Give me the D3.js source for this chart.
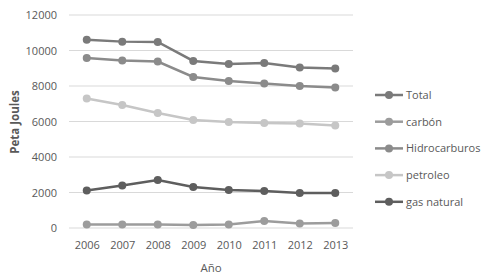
<!DOCTYPE html>
<html><head><meta charset="utf-8">
<script src="https://cdn.jsdelivr.net/npm/d3@7"></script>
<style>body{margin:0;background:#fff;} text{font-family:"Open Sans","Noto Sans",sans-serif;}</style>
</head><body><svg id="c" width="489" height="278"></svg>
<script>
const years = ["2006","2007","2008","2009","2010","2011","2012","2013"];
const seriesNames = ["Total","carbón","Hidrocarburos","petroleo","gas natural"];
const total = [10600,10500,10480,9410,9240,9300,9040,8990];
const carbon = [200,200,200,170,200,390,250,280];
const hidrocarburos = [9580,9440,9380,8510,8280,8140,8000,7920];
const petroleo = [7300,6930,6480,6080,5970,5920,5890,5780];
const gasNatural = [2110,2390,2700,2310,2140,2080,1970,1970];
const yTicks = [0,2000,4000,6000,8000,10000,12000];
const colors = ["#7a7a7a","#9c9c9c","#8b8b8b","#c6c6c6","#5e5e5e"];

const seriesValues = [total, carbon, hidrocarburos, petroleo, gasNatural];
const svg = d3.select("#c");
const x = d3.scalePoint().domain(years).range([69,353]).padding(0.5);
const y = d3.scaleLinear().domain([0,12000]).range([228,15]);

// gridlines
svg.append("g").selectAll("line").data(yTicks).join("line")
  .attr("x1",69).attr("x2",353).attr("y1",d=>y(d)).attr("y2",d=>y(d))
  .attr("stroke","#d9d9d9").attr("stroke-width",1);

// y axis labels
const ya = svg.append("g").attr("transform","translate(60,0)")
  .call(d3.axisLeft(y).tickValues(yTicks).tickSize(0).tickPadding(3).tickFormat(d3.format("d")));
ya.select(".domain").remove();
ya.selectAll("text").attr("fill","#595959").attr("font-size","11px");

// x axis labels
const xa = svg.append("g").attr("transform","translate(0,236)")
  .call(d3.axisBottom(x).tickSize(0).tickPadding(5));
xa.select(".domain").remove();
xa.selectAll("text").attr("fill","#595959").attr("font-size","11px");

// titles
svg.append("text").attr("transform","translate(19,122) rotate(-90)").attr("text-anchor","middle")
  .attr("fill","#595959").attr("font-size","11.5px").attr("font-weight","bold").text("Peta Joules");
svg.append("text").attr("x",211).attr("y",272).attr("text-anchor","middle")
  .attr("fill","#595959").attr("font-size","11.5px").text("Año");

const line = d3.line().x((d,i)=>x(years[i])).y(d=>y(d));
seriesValues.forEach((vals,si)=>{
  const g = svg.append("g");
  g.append("path").attr("d",line(vals)).attr("fill","none").attr("stroke",colors[si]).attr("stroke-width",2.5);
  g.selectAll("circle").data(vals).join("circle")
    .attr("cx",(d,i)=>x(years[i])).attr("cy",d=>y(d)).attr("r",4).attr("fill",colors[si]);
});

// legend
const lg = svg.append("g");
seriesNames.forEach((n,i)=>{
  const ly = 95 + i*26.7;
  lg.append("line").attr("x1",375).attr("x2",403).attr("y1",ly).attr("y2",ly).attr("stroke",colors[i]).attr("stroke-width",2.5);
  lg.append("circle").attr("cx",389).attr("cy",ly).attr("r",4).attr("fill",colors[i]);
  lg.append("text").attr("x",406).attr("y",ly+4).attr("fill","#595959").attr("font-size","11px").text(n);
});
</script></body></html>
